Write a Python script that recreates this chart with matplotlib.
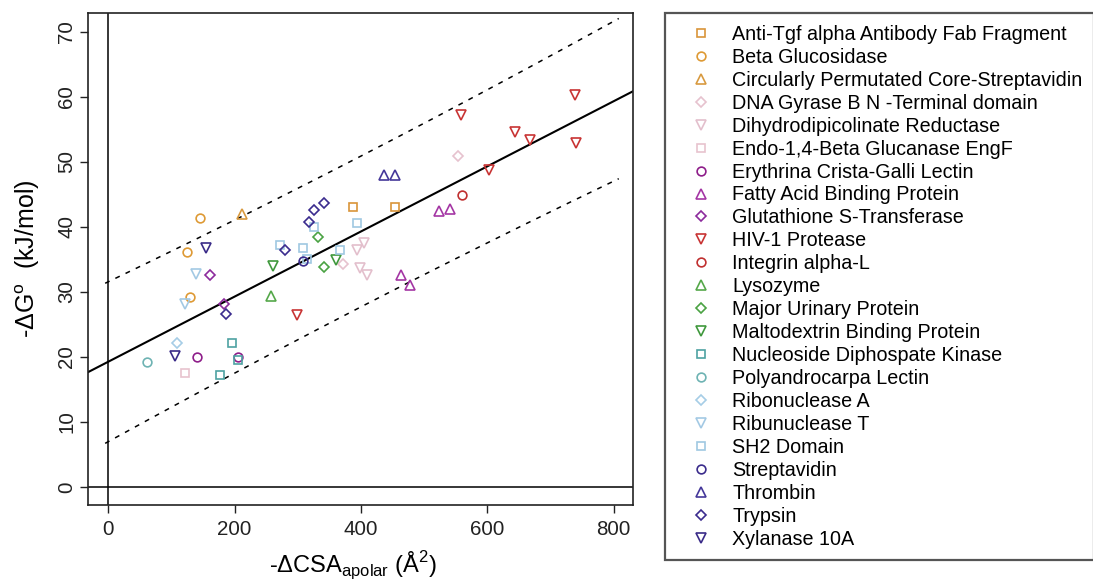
import numpy as np
import matplotlib.pyplot as plt

# proteins, one entry per complex family
proteins = [
    'Anti-Tgf alpha Antibody Fab Fragment', 'Beta Glucosidase',
    'Circularly Permutated Core-Streptavidin', 'DNA Gyrase B N -Terminal domain',
    'Dihydrodipicolinate Reductase', 'Endo-1,4-Beta Glucanase EngF',
    'Erythrina Crista-Galli Lectin', 'Fatty Acid Binding Protein',
    'Glutathione S-Transferase', 'HIV-1 Protease', 'Integrin alpha-L',
    'Lysozyme', 'Major Urinary Protein', 'Maltodextrin Binding Protein',
    'Nucleoside Diphospate Kinase', 'Polyandrocarpa Lectin', 'Ribonuclease A',
    'Ribunuclease T', 'SH2 Domain', 'Streptavidin', 'Thrombin', 'Trypsin',
    'Xylanase 10A',
]
colori = [
    '#D9953A', '#DE9A35', '#D89A40', '#E6C2CE', '#E3BFCC', '#E8C3CE',
    '#8E1E8A', '#A436A4', '#8C2A9C', '#C83434', '#C03030',
    '#55A84A', '#4AA243', '#3F983C', '#4EA2A2', '#6EB3B3', '#A6CDE6',
    '#A3C9E4', '#A0C8E2', '#3B2C8C', '#45389A', '#3A2B8E', '#3A2B88',
]
simboli = ['s', 'o', '^', 'D', 'v', 's', 'o', '^', 'D', 'v', 'o',
           '^', 'D', 'v', 's', 'o', 'D', 'v', 's', 'o', '^', 'D', 'v']

# -dCSA apolar (A^2) and -dG (kJ/mol), same order as proteins
csa_apolar = [
    [387, 453], [145, 125, 129], [212], [371, 553], [394, 404, 399, 409],
    [122], [140, 206], [524, 541, 464, 478], [161, 183],
    [298, 559, 602, 643, 667, 738, 741], [560],
    [258], [342, 332], [260, 361], [195, 206, 177], [62], [109],
    [138, 121], [271, 308, 367, 325, 393, 314], [308], [436, 453],
    [186, 279, 317, 326, 342], [154, 105],
]
dg = [
    [43.0, 43.0], [41.4, 36.2, 29.2], [41.9], [34.3, 50.9], [36.5, 37.5, 33.6, 32.6],
    [17.5], [19.9, 20.0], [42.4, 42.7, 32.6, 31.0], [32.6, 28.2],
    [26.4, 57.2, 48.8, 54.6, 53.4, 60.3, 52.9], [44.9],
    [29.4], [33.8, 38.4], [34.0, 34.9], [22.1, 19.5, 17.2], [19.2], [22.2],
    [32.7, 28.1], [37.2, 36.8, 36.4, 39.9, 40.6, 35.1], [34.8], [48.0, 48.0],
    [26.6, 36.5, 40.8, 42.6, 43.7], [36.8, 20.2],
]

# retta di regressione e banda di predizione
intercetta = 19.25
pendenza = 0.0501
semi_banda = 11.6
centro_banda = 400.0
scala_banda = 1136.0
x_banda = np.linspace(-5, 808, 200)

plt.rcParams['font.family'] = ['Liberation Sans', 'DejaVu Sans']
plt.rcParams['mathtext.fontset'] = 'custom'
plt.rcParams['mathtext.rm'] = 'Liberation Sans'

W, H = 1093, 582
fig = plt.figure(figsize=(W / 100, H / 100), dpi=100)
ax = fig.add_axes([88.3 / W, 1 - 505 / H, (633.3 - 88.3) / W, (505 - 13) / H])

dim = {'s': 6.3, 'o': 6.3, '^': 7.2, 'v': 7.2, 'D': 5.6}
for nome, col, mk, xs, ys in zip(proteins, colori, simboli, csa_apolar, dg):
    ax.plot(xs, ys, linestyle='none', marker=mk, ms=dim[mk], mfc='none',
            mec=col, mew=1.2, label=nome, zorder=3)

ax.axline((0, intercetta), slope=pendenza, color='black', lw=1.5, zorder=2)
retta = intercetta + pendenza * x_banda
largh = semi_banda * np.sqrt(1 + ((x_banda - centro_banda) / scala_banda) ** 2)
for segno in (1, -1):
    ax.plot(x_banda, retta + segno * largh, color='black', lw=1.1,
            dashes=(3.2, 4.2), zorder=2)

ax.axvline(0, color='black', lw=1.1, zorder=1)
ax.axhline(0, color='black', lw=1.1, zorder=1)

ax.set_xlim(-31.7, 831)
ax.set_ylim(-2.8, 72.9)
ax.set_xticks([0, 200, 400, 600, 800])
ax.set_yticks(range(0, 71, 10))
for s in ax.spines.values():
    s.set_linewidth(1.2)
    s.set_color('#222222')
ax.tick_params(axis='both', direction='out', length=5.8, width=1.0,
               labelsize=14.8, colors='#222222')
ax.tick_params(axis='x', pad=5)
ax.tick_params(axis='y', pad=3)
for lab in ax.get_yticklabels():
    lab.set_rotation(90)
    lab.set_va('center')

ax.set_xlabel('-ΔCSA$_{\\mathregular{apolar}}$ (Å$^{\\mathregular{2}}$)',
              fontsize=17, va='baseline')
ax.xaxis.set_label_coords(0.486, -0.1376)
ax.set_ylabel('-ΔG$^{\\mathregular{o}}$  (kJ/mol)', fontsize=18, va='center')
ax.yaxis.set_label_coords(-0.112, 0.5)

leg = ax.legend(loc='upper left', bbox_to_anchor=(665 / W, 1 - 13 / H),
                bbox_transform=fig.transFigure, borderaxespad=0,
                fontsize=14.2, borderpad=0.6, handlelength=2.49,
                handletextpad=0.31, labelspacing=0.2, fancybox=False,
                framealpha=1, edgecolor='#555555')
leg.get_frame().set_linewidth(1.6)

plt.savefig('out.png', dpi=100)
